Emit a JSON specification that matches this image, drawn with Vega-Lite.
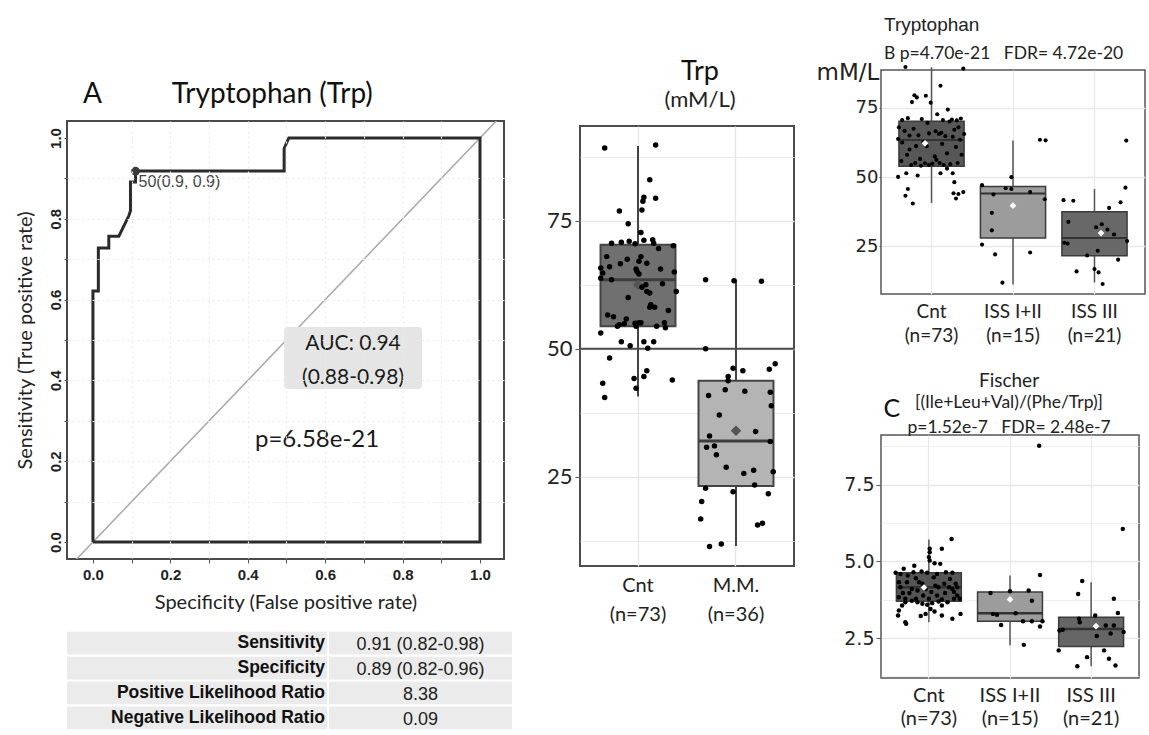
{
"$schema": "https://vega.github.io/schema/vega-lite/v6.json",
"padding": {"left": 14, "top": 5, "right": 0, "bottom": 0},
"background": "white",
"config": {"view": {"stroke": null}, "font": "Liberation Sans", "title": {"fontWeight": "normal"}},
"datasets": {
"roc": [
{"i":0,"fpr":0,"tpr":0},{"i":1,"fpr":0,"tpr":0.621},{"i":2,"fpr":0.014,"tpr":0.621},{"i":3,"fpr":0.014,"tpr":0.728},{"i":4,"fpr":0.041,"tpr":0.728},{"i":5,"fpr":0.041,"tpr":0.757},{"i":6,"fpr":0.067,"tpr":0.757},{"i":7,"fpr":0.093,"tpr":0.808},{"i":8,"fpr":0.097,"tpr":0.82},{"i":9,"fpr":0.097,"tpr":0.891},{"i":10,"fpr":0.11,"tpr":0.891},{"i":11,"fpr":0.11,"tpr":0.918},{"i":12,"fpr":0.494,"tpr":0.918},{"i":13,"fpr":0.494,"tpr":0.974},{"i":14,"fpr":0.506,"tpr":1.0},{"i":15,"fpr":1.0,"tpr":1.0},{"i":16,"fpr":1.0,"tpr":0},{"i":17,"fpr":0,"tpr":0}
],
"tbl": [
{"k":"Sensitivity","val":"0.91 (0.82-0.98)"},{"k":"Specificity","val":"0.89 (0.82-0.96)"},{"k":"Positive Likelihood Ratio","val":"8.38"},{"k":"Negative Likelihood Ratio","val":"0.09"}
],
"stats": [
{"p":"M","g":"Cnt","q1":54.4,"q3":70.3,"med":63.5,"lo":40.7,"hi":89.6,"mean":62.5},
{"p":"M","g":"M.M.","q1":23.2,"q3":43.75,"med":32.0,"lo":11.5,"hi":63.5,"mean":34.0},
{"p":"B","g":"Cnt","q1":53.9,"q3":70.2,"med":63.4,"lo":40.7,"hi":89.7,"mean":62.2},
{"p":"B","g":"ISS I+II","q1":28.0,"q3":46.6,"med":44.1,"lo":11.2,"hi":63.2,"mean":39.7},
{"p":"B","g":"ISS III","q1":21.6,"q3":37.5,"med":28.0,"lo":12.0,"hi":45.7,"mean":29.8},
{"p":"C","g":"Cnt","q1":3.70,"q3":4.63,"med":4.16,"lo":3.02,"hi":5.71,"mean":4.15},
{"p":"C","g":"ISS I+II","q1":3.05,"q3":4.00,"med":3.31,"lo":2.26,"hi":4.54,"mean":3.76},
{"p":"C","g":"ISS III","q1":2.23,"q3":3.18,"med":2.80,"lo":1.58,"hi":4.32,"mean":2.89}
],
"trp": [
{"g":"Cnt","m":"Cnt","v":89.2,"jm":-0.34,"jb":0.39},{"g":"Cnt","m":"Cnt","v":89.8,"jm":0.18,"jb":-0.32},{"g":"Cnt","m":"Cnt","v":83.0,"jm":0.12,"jb":0.11},{"g":"Cnt","m":"Cnt","v":79.6,"jm":0.06,"jb":-0.21},{"g":"Cnt","m":"Cnt","v":78.8,"jm":0.05,"jb":-0.18},{"g":"Cnt","m":"Cnt","v":79.4,"jm":0.18,"jb":-0.07},{"g":"Cnt","m":"Cnt","v":77.1,"jm":0.04,"jb":-0.24},{"g":"Cnt","m":"Cnt","v":76.9,"jm":-0.19,"jb":-0.01},{"g":"Cnt","m":"Cnt","v":74.4,"jm":-0.10,"jb":0.20},{"g":"Cnt","m":"Cnt","v":72.7,"jm":0.03,"jb":0.07},
{"g":"Cnt","m":"Cnt","v":70.6,"jm":-0.27,"jb":-0.36},{"g":"Cnt","m":"Cnt","v":70.8,"jm":-0.17,"jb":0.25},{"g":"Cnt","m":"Cnt","v":71.0,"jm":-0.09,"jb":-0.12},{"g":"Cnt","m":"Cnt","v":70.5,"jm":-0.03,"jb":0.31},{"g":"Cnt","m":"Cnt","v":71.2,"jm":0.06,"jb":0.36},{"g":"Cnt","m":"Cnt","v":71.3,"jm":0.15,"jb":-0.29},{"g":"Cnt","m":"Cnt","v":70.6,"jm":0.16,"jb":0.14},{"g":"Cnt","m":"Cnt","v":69.6,"jm":0.21,"jb":-0.05},{"g":"Cnt","m":"Cnt","v":70.1,"jm":0.36,"jb":0.22},{"g":"Cnt","m":"Cnt","v":68.0,"jm":-0.32,"jb":-0.40},
{"g":"Cnt","m":"Cnt","v":68.0,"jm":0.03,"jb":0.33},{"g":"Cnt","m":"Cnt","v":67.5,"jm":-0.11,"jb":-0.22},{"g":"Cnt","m":"Cnt","v":66.6,"jm":-0.18,"jb":0.05},{"g":"Cnt","m":"Cnt","v":67.1,"jm":0.01,"jb":0.28},{"g":"Cnt","m":"Cnt","v":66.7,"jm":0.09,"jb":-0.33},{"g":"Cnt","m":"Cnt","v":65.6,"jm":0.23,"jb":0.40},{"g":"Cnt","m":"Cnt","v":65.8,"jm":-0.38,"jb":-0.03},{"g":"Cnt","m":"Cnt","v":64.8,"jm":-0.36,"jb":0.17},{"g":"Cnt","m":"Cnt","v":63.8,"jm":-0.38,"jb":-0.41},{"g":"Cnt","m":"Cnt","v":65.6,"jm":-0.02,"jb":0.09},
{"g":"Cnt","m":"Cnt","v":65.1,"jm":-0.01,"jb":-0.16},{"g":"Cnt","m":"Cnt","v":64.6,"jm":0.01,"jb":0.26},{"g":"Cnt","m":"Cnt","v":65.0,"jm":0.37,"jb":-0.27},{"g":"Cnt","m":"Cnt","v":63.5,"jm":-0.27,"jb":0.35},{"g":"Cnt","m":"Cnt","v":62.7,"jm":0.25,"jb":-0.10},{"g":"Cnt","m":"Cnt","v":62.5,"jm":0.08,"jb":-0.36},{"g":"Cnt","m":"Cnt","v":62.0,"jm":0.04,"jb":0.13},{"g":"Cnt","m":"Cnt","v":61.2,"jm":0.09,"jb":-0.19},{"g":"Cnt","m":"Cnt","v":60.9,"jm":0.12,"jb":0.30},{"g":"Cnt","m":"Cnt","v":61.2,"jm":0.39,"jb":-0.06},
{"g":"Cnt","m":"Cnt","v":58.6,"jm":0.13,"jb":0.19},{"g":"Cnt","m":"Cnt","v":58.1,"jm":0.12,"jb":-0.30},{"g":"Cnt","m":"Cnt","v":58.1,"jm":0.17,"jb":0.37},{"g":"Cnt","m":"Cnt","v":56.6,"jm":-0.31,"jb":-0.14},{"g":"Cnt","m":"Cnt","v":56.25,"jm":-0.25,"jb":0.06},{"g":"Cnt","m":"Cnt","v":54.4,"jm":-0.21,"jb":-0.25},{"g":"Cnt","m":"Cnt","v":54.7,"jm":-0.19,"jb":0.23},{"g":"Cnt","m":"Cnt","v":55.8,"jm":-0.12,"jb":-0.37},{"g":"Cnt","m":"Cnt","v":54.9,"jm":-0.14,"jb":0.01},{"g":"Cnt","m":"Cnt","v":55.0,"jm":-0.03,"jb":-0.08},
{"g":"Cnt","m":"Cnt","v":54.4,"jm":-0.02,"jb":0.15},{"g":"Cnt","m":"Cnt","v":55.1,"jm":0.01,"jb":-0.20},{"g":"Cnt","m":"Cnt","v":55.1,"jm":0.03,"jb":0.32},{"g":"Cnt","m":"Cnt","v":54.4,"jm":0.19,"jb":-0.03},{"g":"Cnt","m":"Cnt","v":55.1,"jm":0.27,"jb":0.10},{"g":"Cnt","m":"Cnt","v":54.1,"jm":0.28,"jb":-0.13},{"g":"Cnt","m":"Cnt","v":53.1,"jm":-0.38,"jb":0.19},{"g":"Cnt","m":"Cnt","v":51.4,"jm":-0.17,"jb":-0.31},{"g":"Cnt","m":"Cnt","v":50.6,"jm":-0.08,"jb":-0.17},{"g":"Cnt","m":"Cnt","v":51.4,"jm":0.06,"jb":0.11},
{"g":"Cnt","m":"Cnt","v":51.4,"jm":0.16,"jb":0.26},{"g":"Cnt","m":"Cnt","v":50.1,"jm":0.10,"jb":-0.41},{"g":"Cnt","m":"Cnt","v":48.2,"jm":-0.29,"jb":0.28},{"g":"Cnt","m":"Cnt","v":43.3,"jm":-0.36,"jb":-0.32},{"g":"Cnt","m":"Cnt","v":40.5,"jm":-0.34,"jb":-0.23},{"g":"Cnt","m":"Cnt","v":44.2,"jm":-0.04,"jb":0.27},{"g":"Cnt","m":"Cnt","v":42.3,"jm":-0.02,"jb":0.30},{"g":"Cnt","m":"Cnt","v":44.6,"jm":0.06,"jb":0.39},{"g":"Cnt","m":"Cnt","v":45.7,"jm":0.09,"jb":-0.29},{"g":"Cnt","m":"Cnt","v":43.9,"jm":0.35,"jb":0.33},
{"g":"Cnt","m":"Cnt","v":60.0,"jm":-0.10,"jb":-0.27},{"g":"Cnt","m":"Cnt","v":57.5,"jm":0.31,"jb":0.04},{"g":"Cnt","m":"Cnt","v":66.0,"jm":-0.29,"jb":0.12},
{"g":"ISS I+II","m":"M.M.","v":63.5,"jm":-0.31,"jb":0.33},{"g":"ISS I+II","m":"M.M.","v":63.3,"jm":-0.02,"jb":0.40},{"g":"ISS III","m":"M.M.","v":63.2,"jm":0.26,"jb":0.39},{"g":"ISS I+II","m":"M.M.","v":50.0,"jm":-0.31,"jb":-0.02},{"g":"ISS I+II","m":"M.M.","v":47.1,"jm":0.40,"jb":-0.38},{"g":"ISS III","m":"M.M.","v":46.2,"jm":-0.03,"jb":0.38},{"g":"ISS I+II","m":"M.M.","v":46.0,"jm":0.34,"jb":-0.09},{"g":"ISS I+II","m":"M.M.","v":45.7,"jm":0.07,"jb":-0.02},{"g":"ISS I+II","m":"M.M.","v":44.6,"jm":-0.08,"jb":0.21},{"g":"ISS I+II","m":"M.M.","v":43.75,"jm":-0.08,"jb":-0.24},
{"g":"ISS I+II","m":"M.M.","v":42.0,"jm":-0.11,"jb":0.39},{"g":"ISS III","m":"M.M.","v":41.7,"jm":0.09,"jb":-0.38},{"g":"ISS III","m":"M.M.","v":41.5,"jm":0.35,"jb":-0.26},{"g":"ISS III","m":"M.M.","v":40.9,"jm":-0.28,"jb":0.32},{"g":"ISS III","m":"M.M.","v":38.9,"jm":0.36,"jb":0.18},{"g":"ISS I+II","m":"M.M.","v":37.1,"jm":-0.17,"jb":-0.26},{"g":"ISS III","m":"M.M.","v":33.85,"jm":0.20,"jb":-0.32},{"g":"ISS III","m":"M.M.","v":33.0,"jm":-0.27,"jb":0.09},{"g":"ISS III","m":"M.M.","v":31.9,"jm":0.35,"jb":0.02},{"g":"ISS III","m":"M.M.","v":31.05,"jm":-0.22,"jb":0.16},
{"g":"ISS I+II","m":"M.M.","v":30.8,"jm":-0.30,"jb":-0.26},{"g":"ISS III","m":"M.M.","v":29.3,"jm":-0.20,"jb":0.24},{"g":"ISS III","m":"M.M.","v":26.9,"jm":-0.10,"jb":0.40},{"g":"ISS III","m":"M.M.","v":26.3,"jm":0.18,"jb":-0.37},{"g":"ISS III","m":"M.M.","v":26.0,"jm":0.38,"jb":-0.33},{"g":"ISS I+II","m":"M.M.","v":25.65,"jm":0.08,"jb":-0.38},{"g":"ISS III","m":"M.M.","v":23.4,"jm":0.19,"jb":0.04},{"g":"ISS I+II","m":"M.M.","v":22.8,"jm":-0.31,"jb":0.21},{"g":"ISS I+II","m":"M.M.","v":22.1,"jm":-0.03,"jb":-0.22},{"g":"ISS III","m":"M.M.","v":21.7,"jm":0.33,"jb":-0.09},
{"g":"ISS III","m":"M.M.","v":20.2,"jm":-0.35,"jb":0.29},{"g":"ISS III","m":"M.M.","v":16.8,"jm":-0.36,"jb":0.0},{"g":"ISS III","m":"M.M.","v":15.95,"jm":0.27,"jb":-0.22},{"g":"ISS III","m":"M.M.","v":15.6,"jm":0.22,"jb":0.05},{"g":"ISS I+II","m":"M.M.","v":11.9,"jm":-0.15,"jb":-0.13},{"g":"ISS III","m":"M.M.","v":11.4,"jm":-0.27,"jb":0.10}
],
"fis": [
{"g":"Cnt","v":5.73,"j":0.28},{"g":"Cnt","v":5.41,"j":0.01},{"g":"Cnt","v":5.30,"j":0.01},{"g":"Cnt","v":5.41,"j":0.16},{"g":"Cnt","v":5.14,"j":0.0},{"g":"Cnt","v":5.03,"j":0.01},{"g":"Cnt","v":4.86,"j":-0.18},{"g":"Cnt","v":4.94,"j":0.07},{"g":"Cnt","v":4.92,"j":0.14},{"g":"Cnt","v":4.76,"j":-0.31},
{"g":"Cnt","v":4.63,"j":-0.41},{"g":"Cnt","v":4.59,"j":-0.35},{"g":"Cnt","v":4.67,"j":-0.09},{"g":"Cnt","v":4.63,"j":-0.02},{"g":"Cnt","v":4.65,"j":0.21},{"g":"Cnt","v":4.63,"j":0.29},{"g":"Cnt","v":4.54,"j":-0.26},{"g":"Cnt","v":4.45,"j":-0.16},{"g":"Cnt","v":4.48,"j":0.06},{"g":"Cnt","v":4.43,"j":0.26},
{"g":"Cnt","v":4.32,"j":-0.27},{"g":"Cnt","v":4.32,"j":-0.12},{"g":"Cnt","v":4.27,"j":-0.08},{"g":"Cnt","v":4.21,"j":0.08},{"g":"Cnt","v":4.27,"j":0.19},{"g":"Cnt","v":4.27,"j":0.33},{"g":"Cnt","v":4.16,"j":-0.35},{"g":"Cnt","v":4.10,"j":-0.21},{"g":"Cnt","v":4.10,"j":-0.04},{"g":"Cnt","v":4.16,"j":0.12},
{"g":"Cnt","v":4.10,"j":0.29},{"g":"Cnt","v":4.16,"j":0.35},{"g":"Cnt","v":3.97,"j":-0.32},{"g":"Cnt","v":3.97,"j":-0.24},{"g":"Cnt","v":4.00,"j":0.03},{"g":"Cnt","v":3.97,"j":0.20},{"g":"Cnt","v":4.00,"j":0.31},{"g":"Cnt","v":3.83,"j":-0.37},{"g":"Cnt","v":3.78,"j":-0.29},{"g":"Cnt","v":3.78,"j":-0.16},
{"g":"Cnt","v":3.78,"j":0.0},{"g":"Cnt","v":3.76,"j":0.16},{"g":"Cnt","v":3.89,"j":0.35},{"g":"Cnt","v":3.78,"j":0.38},{"g":"Cnt","v":3.67,"j":-0.14},{"g":"Cnt","v":3.62,"j":-0.08},{"g":"Cnt","v":3.59,"j":-0.02},{"g":"Cnt","v":3.64,"j":0.04},{"g":"Cnt","v":3.56,"j":0.16},{"g":"Cnt","v":3.56,"j":-0.33},
{"g":"Cnt","v":3.45,"j":0.02},{"g":"Cnt","v":3.40,"j":-0.37},{"g":"Cnt","v":3.24,"j":-0.38},{"g":"Cnt","v":3.22,"j":-0.10},{"g":"Cnt","v":3.29,"j":-0.04},{"g":"Cnt","v":3.24,"j":0.16},{"g":"Cnt","v":3.13,"j":0.29},{"g":"Cnt","v":3.29,"j":0.39},{"g":"Cnt","v":3.02,"j":-0.29},{"g":"Cnt","v":2.97,"j":-0.28},
{"g":"Cnt","v":3.37,"j":0.07},{"g":"Cnt","v":4.65,"j":-0.19},{"g":"Cnt","v":4.59,"j":0.10},{"g":"Cnt","v":4.05,"j":-0.14},{"g":"Cnt","v":3.89,"j":0.10},{"g":"Cnt","v":3.67,"j":0.23},{"g":"Cnt","v":3.67,"j":-0.29},{"g":"Cnt","v":3.89,"j":-0.07},{"g":"Cnt","v":4.16,"j":0.25},{"g":"Cnt","v":3.72,"j":-0.21},
{"g":"Cnt","v":3.69,"j":0.12},{"g":"Cnt","v":4.32,"j":-0.37},{"g":"Cnt","v":3.78,"j":0.31},
{"g":"ISS I+II","v":8.77,"j":0.36},{"g":"ISS I+II","v":4.56,"j":0.37},{"g":"ISS I+II","v":3.97,"j":-0.24},{"g":"ISS I+II","v":4.03,"j":0.0},{"g":"ISS I+II","v":4.05,"j":0.23},{"g":"ISS I+II","v":3.72,"j":0.27},{"g":"ISS I+II","v":3.29,"j":-0.21},{"g":"ISS I+II","v":3.26,"j":-0.16},{"g":"ISS I+II","v":2.93,"j":-0.11},{"g":"ISS I+II","v":3.05,"j":0.16},{"g":"ISS I+II","v":3.05,"j":0.27},{"g":"ISS I+II","v":3.05,"j":0.40},{"g":"ISS I+II","v":2.88,"j":0.37},{"g":"ISS I+II","v":2.28,"j":0.17},{"g":"ISS I+II","v":3.31,"j":0.07},
{"g":"ISS III","v":6.06,"j":0.39},{"g":"ISS III","v":4.36,"j":-0.11},{"g":"ISS III","v":3.94,"j":-0.16},{"g":"ISS III","v":3.78,"j":0.28},{"g":"ISS III","v":3.32,"j":0.33},{"g":"ISS III","v":3.24,"j":0.05},{"g":"ISS III","v":3.13,"j":-0.15},{"g":"ISS III","v":3.02,"j":-0.14},{"g":"ISS III","v":2.91,"j":0.18},{"g":"ISS III","v":2.91,"j":0.28},{"g":"ISS III","v":2.75,"j":-0.39},{"g":"ISS III","v":2.77,"j":-0.35},{"g":"ISS III","v":2.70,"j":0.40},{"g":"ISS III","v":2.65,"j":0.24},{"g":"ISS III","v":2.57,"j":0.07},{"g":"ISS III","v":2.10,"j":-0.40},{"g":"ISS III","v":2.10,"j":0.16},{"g":"ISS III","v":1.88,"j":-0.05},{"g":"ISS III","v":1.83,"j":0.22},{"g":"ISS III","v":1.58,"j":-0.17},{"g":"ISS III","v":1.61,"j":0.30}
]
},
"hconcat": [
{"vconcat": [
  {"width": 437, "height": 75, "data": {"values": [{}]}, "mark": {"type": "text", "text": "", "fontSize": 1}},
  {"vconcat": [
  {"width": 437, "height": 438,
   "view": {"stroke": "#4a4a4a", "strokeWidth": 2},
   "title": {"text": "A\u00a0\u00a0\u00a0\u00a0\u00a0\u00a0\u00a0\u00a0\u00a0\u00a0Tryptophan (Trp)", "anchor": "start", "frame": "group", "dx": 16, "font": "Lato", "fontSize": 28, "fontWeight": "normal", "color": "#111", "offset": 12},
   "encoding": {
      "x": {"field": "fpr", "type": "quantitative", "scale": {"domain": [-0.067, 1.062], "nice": false, "zero": false},
            "axis": {"values": [0,0.1,0.2,0.3,0.4,0.5,0.6,0.7,0.8,0.9,1], "labelExpr": "round(datum.value*10) % 2 === 0 ? format(datum.value, '.1f') : ''", "labelOverlap": false, "labelFont": "Liberation Sans", "labelFontSize": 15, "labelFontWeight": "bold", "labelColor": "#222", "labelPadding": 4, "tickSize": 4, "tickColor": "#555", "domain": false, "grid": true, "gridColor": "#ebebeb", "gridDash": [2,3], "gridWidth": 1.2, "gridOpacity": {"condition": {"test": "datum.value === 0 || datum.value === 1", "value": 0}, "value": 1}, "zindex": 1, "title": "Specificity (False positive rate)", "titleFont": "Lato", "titleFontSize": 20, "titleFontWeight": "normal", "titleColor": "#222", "titlePadding": 10}},
      "y": {"field": "tpr", "type": "quantitative", "scale": {"domain": [-0.042, 1.042], "nice": false, "zero": false},
            "axis": {"values": [0,0.1,0.2,0.3,0.4,0.5,0.6,0.7,0.8,0.9,1], "labelExpr": "round(datum.value*10) % 2 === 0 ? format(datum.value, '.1f') : ''", "labelOverlap": false, "labelAngle": 270, "labelAlign": "center", "labelBaseline": "bottom", "labelFont": "Liberation Sans", "labelFontSize": 15, "labelFontWeight": "bold", "labelColor": "#222", "labelPadding": 1, "tickSize": 3, "tickColor": "#555", "domain": false, "grid": true, "gridColor": "#ebebeb", "gridDash": [2,3], "gridWidth": 1.2, "gridOpacity": {"condition": {"test": "datum.value === 0 || datum.value === 1", "value": 0}, "value": 1}, "zindex": 1, "title": "Sensitivity (True positive rate)", "titleFont": "Lato", "titleFontSize": 20, "titleFontWeight": "normal", "titleColor": "#222", "titlePadding": 13}}
   },
   "layer": [
    {"data": {"name": "roc"}, "transform": [{"filter": "datum.i <= 15"}],
     "mark": {"type": "area", "color": "#d7d7d7", "opacity": 1},
     "encoding": {"y2": {"datum": 0}, "order": {"field": "i", "type": "quantitative"}}},
    {"data": {"values": [{"fpr": -0.1, "tpr": -0.1, "fpr2": 1.1, "tpr2": 1.1}]},
     "mark": {"type": "rule", "color": "#a8a8a8", "strokeWidth": 1.5, "clip": true},
     "encoding": {"x2": {"field": "fpr2"}, "y2": {"field": "tpr2"}}},
    {"data": {"values": [{"fpr": 0.494, "fpr2": 0.85, "tpr": 0.379, "tpr2": 0.532}]},
     "mark": {"type": "rect", "color": "#e5e5e5", "cornerRadius": 3},
     "encoding": {"x2": {"field": "fpr2"}, "y2": {"field": "tpr2"}}},
    {"data": {"name": "roc"},
     "mark": {"type": "line", "color": "#2b2b2b", "strokeWidth": 3},
     "encoding": {"order": {"field": "i", "type": "quantitative"}}},
    {"data": {"values": [{"fpr": 0.11, "tpr": 0.918}]},
     "mark": {"type": "circle", "size": 75, "color": "#3a3a3a", "opacity": 1}},
    {"data": {"values": [{"fpr": 0.11, "tpr": 0.918, "t": "50(0.9, 0.9)"}]},
     "mark": {"type": "text", "align": "left", "baseline": "top", "dx": 3, "dy": 3, "font": "Liberation Sans", "fontSize": 16, "color": "#444"},
     "encoding": {"text": {"field": "t"}}},
    {"data": {"values": [{"fpr": 0.672, "tpr": 0.49, "t": "AUC: 0.94"}, {"fpr": 0.672, "tpr": 0.406, "t": "(0.88-0.98)"}]},
     "mark": {"type": "text", "font": "Lato", "fontSize": 21, "color": "#1a1a1a", "baseline": "middle"},
     "encoding": {"text": {"field": "t"}}},
    {"data": {"values": [{"fpr": 0.579, "tpr": 0.252, "t": "p=6.58e-21"}]},
     "mark": {"type": "text", "font": "Lato", "fontSize": 24, "color": "#1a1a1a", "baseline": "middle"},
     "encoding": {"text": {"field": "t"}}}
   ]},
  {"hconcat": [
    {"width": 260, "height": 99, "data": {"name": "tbl"},
     "encoding": {"y": {"field": "k", "type": "nominal", "sort": null, "axis": null, "scale": {"paddingInner": 0.09, "paddingOuter": 0.03}}},
     "layer": [
      {"mark": {"type": "rect", "color": "#ebebeb"}},
      {"mark": {"type": "text", "align": "right", "baseline": "middle", "dx": -2, "font": "Liberation Sans", "fontSize": 17.5, "fontWeight": "bold", "color": "#111"},
       "encoding": {"x": {"datum": 1, "type": "quantitative", "scale": {"domain": [0, 1]}, "axis": null}, "text": {"field": "k"}}}
     ]},
    {"width": 183, "height": 99, "data": {"name": "tbl"},
     "encoding": {"y": {"field": "k", "type": "nominal", "sort": null, "axis": null, "scale": {"paddingInner": 0.09, "paddingOuter": 0.03}}},
     "layer": [
      {"mark": {"type": "rect", "color": "#ebebeb"}},
      {"mark": {"type": "text", "baseline": "middle", "dy": 2, "font": "Liberation Sans", "fontSize": 18, "color": "#222"}, "encoding": {"text": {"field": "val"}}}
     ]}
  ], "spacing": 2}
  ], "spacing": 18}
 ], "spacing": 0},
{"hconcat": [
  {"vconcat": [
    {"width": 214, "height": 52, "data": {"values": [{}]}, "mark": {"type": "text", "text": "", "fontSize": 1}},
    {"width": 214, "height": 440,
     "view": {"stroke": "#4d4d4d", "strokeWidth": 2},
     "title": {"text": "Trp", "subtitle": "(mM/L)", "anchor": "middle", "frame": "group", "dx": 13, "font": "Lato", "fontSize": 27, "fontWeight": "normal", "color": "#111", "subtitleFont": "Lato", "subtitleFontSize": 22, "subtitleColor": "#222", "subtitlePadding": 4, "offset": 14},
     "resolve": {"scale": {"x": "independent", "xOffset": "independent"}, "axis": {"x": "independent"}},
     "layer": [
      {"data": {"name": "stats"}, "transform": [{"filter": "datum.p === 'M'"}],
       "encoding": {"x": {"field": "g", "type": "nominal", "scale": {"domain": ["Cnt", "M.M."], "paddingInner": 0, "paddingOuter": 0.092},
          "axis": {"labelExpr": "datum.value === 'Cnt' ? ['Cnt', '(n=73)'] : ['M.M.', '(n=36)']", "labelAngle": 0, "labelBaseline": "top", "ticks": false, "domain": false, "grid": true, "bandPosition": 0.5, "gridColor": "#e6e6e6", "gridWidth": 1.3, "labelFont": "Lato", "labelFontSize": 20, "labelColor": "#222", "labelLineHeight": 29, "labelPadding": 9, "title": null}}},
       "layer": [
        {"mark": {"type": "rule", "color": "#444", "strokeWidth": 2},
         "encoding": {"y": {"field": "lo", "type": "quantitative", "scale": {"domain": [7.6, 93.5], "nice": false, "zero": false},
            "axis": {"values": [12.5, 25, 37.5, 50, 62.5, 75, 87.5], "labelExpr": "datum.value % 25 === 0 ? format(datum.value, 'd') : ''", "labelOverlap": false, "grid": true, "gridColor": "#e6e6e6", "gridWidth": {"condition": {"test": "datum.value % 25 === 0", "value": 1.5}, "value": 0.8}, "tickOpacity": {"condition": {"test": "datum.value % 25 === 0", "value": 1}, "value": 0}, "tickSize": 5, "tickColor": "#555", "domain": false, "labelFont": "Lato", "labelFontSize": 22, "labelColor": "#222", "labelPadding": 3, "title": null}},
          "y2": {"field": "hi"}}},
        {"mark": {"type": "bar", "width": {"band": 0.765}, "stroke": "#444", "strokeWidth": 2},
         "encoding": {"y": {"field": "q1", "type": "quantitative", "scale": {"domain": [7.6, 93.5], "nice": false, "zero": false}}, "y2": {"field": "q3"},
          "fill": {"condition": {"test": "datum.g === 'Cnt'", "value": "#707070"}, "value": "#b4b4b4"}}},
        {"mark": {"type": "tick", "orient": "horizontal", "size": 75, "thickness": 3, "color": "#3d3d3d", "opacity": 1},
         "encoding": {"y": {"field": "med", "type": "quantitative", "scale": {"domain": [7.6, 93.5], "nice": false, "zero": false}}}},
        {"mark": {"type": "point", "shape": "diamond", "filled": true, "size": 110, "color": "#555", "opacity": 1},
         "encoding": {"y": {"field": "mean", "type": "quantitative", "scale": {"domain": [7.6, 93.5], "nice": false, "zero": false}}}}
       ]},
      {"data": {"values": [{}]}, "mark": {"type": "rule", "color": "#4d4d4d", "strokeWidth": 2},
       "encoding": {"y": {"datum": 50, "type": "quantitative", "scale": {"domain": [7.6, 93.5], "nice": false, "zero": false}}}},
      {"data": {"name": "trp"}, "mark": {"type": "circle", "size": 30, "color": "#000", "opacity": 1},
       "encoding": {
        "x": {"field": "m", "type": "nominal", "scale": {"domain": ["Cnt", "M.M."], "paddingInner": 0, "paddingOuter": 0.092}, "axis": null},
        "xOffset": {"field": "jm", "type": "quantitative", "scale": {"domain": [-0.5, 0.5]}},
        "y": {"field": "v", "type": "quantitative", "scale": {"domain": [7.6, 93.5], "nice": false, "zero": false}}}}
     ]}
  ], "spacing": 0},
  {"vconcat": [
    {"width": 264, "height": 9, "data": {"values": [{}]}, "mark": {"type": "text", "text": "", "fontSize": 1}},
    {"vconcat": [
    {"width": 264, "height": 224,
     "view": {"stroke": "#555", "strokeWidth": 1.5},
     "title": {"text": "\u00a0\u00a0\u00a0\u00a0\u00a0\u00a0\u00a0\u00a0\u00a0\u00a0\u00a0\u00a0\u00a0\u00a0\u00a0\u00a0\u00a0Tryptophan", "subtitle": "B p=4.70e-21\u00a0\u00a0\u00a0FDR= 4.72e-20", "anchor": "start", "frame": "group", "dx": 3, "font": "Liberation Sans", "fontSize": 19, "fontWeight": "normal", "color": "#222", "subtitleFont": "Lato", "subtitleFontSize": 17.5, "subtitleColor": "#222", "subtitlePadding": 10, "offset": -1},
     "resolve": {"scale": {"x": "independent", "xOffset": "independent"}, "axis": {"x": "independent"}},
     "layer": [
      {"data": {"name": "stats"}, "transform": [{"filter": "datum.p === 'B'"}],
       "encoding": {"x": {"field": "g", "type": "nominal", "scale": {"domain": ["Cnt", "ISS I+II", "ISS III"], "paddingInner": 0, "paddingOuter": 0.12},
          "axis": {"labelExpr": "datum.value === 'Cnt' ? ['Cnt', '(n=73)'] : datum.value === 'ISS I+II' ? ['ISS I+II', '(n=15)'] : ['ISS III', '(n=21)']", "labelAngle": 0, "labelBaseline": "top", "ticks": false, "domain": false, "grid": true, "bandPosition": 0.5, "gridColor": "#e8e8e8", "gridWidth": 1.2, "labelFont": "Lato", "labelFontSize": 19, "labelColor": "#222", "labelLineHeight": 24, "labelPadding": 8, "title": null}}},
       "layer": [
        {"mark": {"type": "rule", "color": "#555", "strokeWidth": 1.5},
         "encoding": {"y": {"field": "lo", "type": "quantitative", "scale": {"domain": [7.8, 88.7], "nice": false, "zero": false},
            "axis": {"values": [25, 50, 75], "format": "d", "labelOverlap": false, "labelFlush": false, "labelBound": false, "labelAlign": "right", "labelBaseline": "middle", "grid": true, "gridColor": "#e8e8e8", "gridWidth": 1.3, "tickSize": 2, "tickColor": "#555", "domain": false, "labelFont": "DejaVu Sans", "labelFontSize": 18, "labelColor": "#222", "labelPadding": 1,
              "title": "mM/L", "titleAngle": 0, "titleAlign": "left", "titleBaseline": "middle", "titleX": -65, "titleY": 2, "titleFont": "DejaVu Sans", "titleFontSize": 23, "titleFontWeight": "normal", "titleColor": "#222"}},
          "y2": {"field": "hi"}}},
        {"mark": {"type": "bar", "width": {"band": 0.8}, "stroke": "#3c3c3c", "strokeWidth": 1.5},
         "encoding": {"y": {"field": "q1", "type": "quantitative", "scale": {"domain": [7.8, 88.7], "nice": false, "zero": false}}, "y2": {"field": "q3"},
          "fill": {"condition": [{"test": "datum.g === 'Cnt'", "value": "#575757"}, {"test": "datum.g === 'ISS I+II'", "value": "#9c9c9c"}], "value": "#686868"}}},
        {"mark": {"type": "tick", "orient": "horizontal", "size": 65, "thickness": 2, "color": "#333", "opacity": 1},
         "encoding": {"y": {"field": "med", "type": "quantitative", "scale": {"domain": [7.8, 88.7], "nice": false, "zero": false}}}}
       ]},
      {"data": {"name": "trp"}, "mark": {"type": "circle", "size": 17, "color": "#000", "opacity": 1},
       "encoding": {
        "x": {"field": "g", "type": "nominal", "scale": {"domain": ["Cnt", "ISS I+II", "ISS III"], "paddingInner": 0, "paddingOuter": 0.12}, "axis": null},
        "xOffset": {"field": "jb", "type": "quantitative", "scale": {"domain": [-0.5, 0.5]}},
        "y": {"field": "v", "type": "quantitative", "scale": {"domain": [7.8, 88.7], "nice": false, "zero": false}}}},
      {"data": {"name": "stats"}, "transform": [{"filter": "datum.p === 'B'"}],
       "mark": {"type": "point", "shape": "diamond", "filled": true, "size": 45, "color": "#ffffff", "opacity": 1},
       "encoding": {
        "x": {"field": "g", "type": "nominal", "scale": {"domain": ["Cnt", "ISS I+II", "ISS III"], "paddingInner": 0, "paddingOuter": 0.12}, "axis": null},
        "y": {"field": "mean", "type": "quantitative", "scale": {"domain": [7.8, 88.7], "nice": false, "zero": false}}}}
     ]},
    {"width": 264, "height": 10, "data": {"values": [{}]}, "mark": {"type": "text", "text": "", "fontSize": 1}},
    {"width": 258, "height": 243,
     "view": {"stroke": "#555", "strokeWidth": 1.5},
     "title": {"text": "Fischer", "subtitle": ["[(Ile+Leu+Val)/(Phe/Trp)]", "p=1.52e-7\u00a0\u00a0\u00a0FDR= 2.48e-7"], "anchor": "middle", "frame": "group", "dx": -1, "font": "Lato", "fontSize": 19, "fontWeight": "normal", "color": "#222", "subtitleFont": "Lato", "subtitleFontSize": 17.5, "subtitleColor": "#222", "subtitleLineHeight": 25, "subtitlePadding": 3, "offset": -40},
     "resolve": {"scale": {"x": "independent", "xOffset": "independent"}, "axis": {"x": "independent"}},
     "layer": [
      {"data": {"name": "stats"}, "transform": [{"filter": "datum.p === 'C'"}],
       "encoding": {"x": {"field": "g", "type": "nominal", "scale": {"domain": ["Cnt", "ISS I+II", "ISS III"], "paddingInner": 0, "paddingOuter": 0.09},
          "axis": {"labelExpr": "datum.value === 'Cnt' ? ['Cnt', '(n=73)'] : datum.value === 'ISS I+II' ? ['ISS I+II', '(n=15)'] : ['ISS III', '(n=21)']", "labelAngle": 0, "labelBaseline": "top", "ticks": false, "domain": false, "grid": true, "bandPosition": 0.5, "gridColor": "#e8e8e8", "gridWidth": 1.2, "labelFont": "Lato", "labelFontSize": 20, "labelColor": "#222", "labelLineHeight": 23, "labelPadding": 7, "title": null}}},
       "layer": [
        {"mark": {"type": "rule", "color": "#555", "strokeWidth": 1.5},
         "encoding": {"y": {"field": "lo", "type": "quantitative", "scale": {"domain": [1.2, 9.12], "nice": false, "zero": false},
            "axis": {"values": [1.25, 2.5, 3.75, 5, 6.25, 7.5, 8.75], "labelExpr": "datum.value % 2.5 === 0 ? format(datum.value, '.1f') : ''", "labelOverlap": false, "grid": true, "gridColor": "#e8e8e8", "gridWidth": {"condition": {"test": "datum.value % 2.5 === 0", "value": 1.3}, "value": 0.7}, "tickOpacity": {"condition": {"test": "datum.value % 2.5 === 0", "value": 1}, "value": 0}, "tickSize": 5, "tickColor": "#555", "domain": false, "labelFont": "DejaVu Sans", "labelFontSize": 19, "labelColor": "#222", "labelPadding": 2,
              "title": "C", "titleAngle": 0, "titleAlign": "left", "titleBaseline": "middle", "titleX": 2, "titleY": -27, "titleFont": "Lato", "titleFontSize": 25, "titleFontWeight": "normal", "titleColor": "#111"}},
          "y2": {"field": "hi"}}},
        {"mark": {"type": "bar", "width": {"band": 0.8}, "stroke": "#3c3c3c", "strokeWidth": 1.5},
         "encoding": {"y": {"field": "q1", "type": "quantitative", "scale": {"domain": [1.2, 9.12], "nice": false, "zero": false}}, "y2": {"field": "q3"},
          "fill": {"condition": [{"test": "datum.g === 'Cnt'", "value": "#555555"}, {"test": "datum.g === 'ISS I+II'", "value": "#9c9c9c"}], "value": "#666666"}}},
        {"mark": {"type": "tick", "orient": "horizontal", "size": 65, "thickness": 2.5, "color": "#333", "opacity": 1},
         "encoding": {"y": {"field": "med", "type": "quantitative", "scale": {"domain": [1.2, 9.12], "nice": false, "zero": false}}}}
       ]},
      {"data": {"name": "fis"}, "mark": {"type": "circle", "size": 20, "color": "#000", "opacity": 1},
       "encoding": {
        "x": {"field": "g", "type": "nominal", "scale": {"domain": ["Cnt", "ISS I+II", "ISS III"], "paddingInner": 0, "paddingOuter": 0.09}, "axis": null},
        "xOffset": {"field": "j", "type": "quantitative", "scale": {"domain": [-0.5, 0.5]}},
        "y": {"field": "v", "type": "quantitative", "scale": {"domain": [1.2, 9.12], "nice": false, "zero": false}}}},
      {"data": {"name": "stats"}, "transform": [{"filter": "datum.p === 'C'"}],
       "mark": {"type": "point", "shape": "diamond", "filled": true, "size": 45, "color": "#ffffff", "opacity": 1},
       "encoding": {
        "x": {"field": "g", "type": "nominal", "scale": {"domain": ["Cnt", "ISS I+II", "ISS III"], "paddingInner": 0, "paddingOuter": 0.09}, "axis": null},
        "y": {"field": "mean", "type": "quantitative", "scale": {"domain": [1.2, 9.12], "nice": false, "zero": false}}}}
     ]}
    ], "spacing": 7}
  ], "spacing": 0}
 ], "spacing": 19}
],
"spacing": 33
}
